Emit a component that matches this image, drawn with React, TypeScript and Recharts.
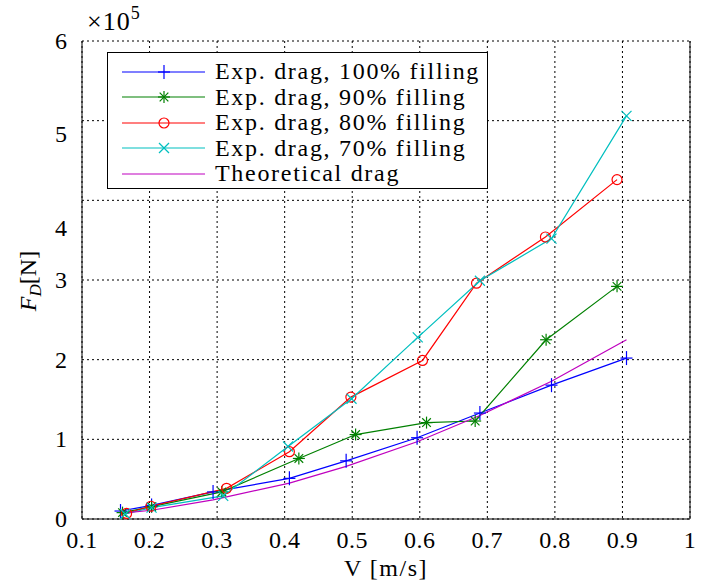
import {
  LineChart,
  Line,
  XAxis,
  YAxis,
  CartesianGrid,
  ReferenceLine,
} from "recharts";

// velocities [m/s] and drag [x1e5 N]
const V100 = [0.157, 0.203, 0.294, 0.407, 0.491, 0.596, 0.689, 0.795, 0.906];
const F100 = [0.1, 0.17, 0.34, 0.51, 0.73, 1.02, 1.33, 1.68, 2.02];
const V90 = [0.16, 0.203, 0.307, 0.421, 0.505, 0.61, 0.682, 0.787, 0.892];
const F90 = [0.08, 0.155, 0.34, 0.76, 1.06, 1.21, 1.23, 2.25, 2.92];
const V80 = [0.166, 0.202, 0.314, 0.407, 0.498, 0.604, 0.684, 0.786, 0.892];
const F80 = [0.07, 0.16, 0.385, 0.845, 1.53, 1.99, 2.96, 3.54, 4.26];
const V70 = [0.164, 0.203, 0.309, 0.405, 0.499, 0.597, 0.689, 0.795, 0.906];
const F70 = [0.063, 0.142, 0.29, 0.91, 1.51, 2.28, 2.99, 3.52, 5.06];
const VTH = [0.157, 0.203, 0.294, 0.407, 0.491, 0.596, 0.689, 0.795, 0.906];
const FTH = [0.07, 0.11, 0.24, 0.45, 0.66, 0.97, 1.3, 1.73, 2.25];

const X_TICKS = [0.1, 0.2, 0.3, 0.4, 0.5, 0.6, 0.7, 0.8, 0.9, 1];
const Y_TICKS = [0, 1, 2, 3, 4, 5, 6];

const FONT = "Liberation Serif";
const FS = 24;

type Marker = "plus" | "star" | "circle" | "cross" | "none";

const zip = (v: number[], f: number[]) => v.map((x, i) => ({ v: x, f: f[i] }));

const SERIES: { name: string; color: string; marker: Marker; data: { v: number; f: number }[] }[] = [
  { name: "Exp. drag, 100% filling", color: "#0000ff", marker: "plus", data: zip(V100, F100) },
  { name: "Exp. drag, 90% filling", color: "#008000", marker: "star", data: zip(V90, F90) },
  { name: "Exp. drag, 80% filling", color: "#ff0000", marker: "circle", data: zip(V80, F80) },
  { name: "Exp. drag, 70% filling", color: "#00bfbf", marker: "cross", data: zip(V70, F70) },
  { name: "Theoretical drag", color: "#bf00bf", marker: "none", data: zip(VTH, FTH) },
];

function MarkerShape({ kind, cx, cy, color }: { kind: Marker; cx: number; cy: number; color: string }) {
  const s = 6;
  if (kind === "plus")
    return (
      <g stroke={color} strokeWidth={1.2}>
        <line x1={cx - s} y1={cy} x2={cx + s} y2={cy} />
        <line x1={cx} y1={cy - s - 1} x2={cx} y2={cy + s + 1} />
      </g>
    );
  if (kind === "star") {
    const d = s * 0.72;
    return (
      <g stroke={color} strokeWidth={1.2}>
        <line x1={cx - s} y1={cy} x2={cx + s} y2={cy} />
        <line x1={cx} y1={cy - s} x2={cx} y2={cy + s} />
        <line x1={cx - d} y1={cy - d} x2={cx + d} y2={cy + d} />
        <line x1={cx - d} y1={cy + d} x2={cx + d} y2={cy - d} />
      </g>
    );
  }
  if (kind === "circle")
    return <circle cx={cx} cy={cy} r={5} fill="none" stroke={color} strokeWidth={1.2} />;
  if (kind === "cross") {
    const d = 5;
    return (
      <g stroke={color} strokeWidth={1.2}>
        <line x1={cx - d} y1={cy - d} x2={cx + d} y2={cy + d} />
        <line x1={cx - d} y1={cy + d} x2={cx + d} y2={cy - d} />
      </g>
    );
  }
  return <g />;
}

function makeDot(kind: Marker, color: string) {
  return (p: any) => (
    <MarkerShape key={`${kind}-${p.index}`} kind={kind} cx={p.cx} cy={p.cy} color={color} />
  );
}

// labels for 4 and 5 sit a bit lower than their grid lines in the original
const Y_LABEL_SHIFT: Record<number, number> = { 4: 28, 5: 13 };

function YTick(props: any) {
  const { x, y, payload } = props;
  const dy = Y_LABEL_SHIFT[payload.value] ?? 0;
  return (
    <text x={x - 7} y={y + dy + 8} textAnchor="end" style={{ fontFamily: FONT, fontSize: FS }} fill="#000">
      {payload.value}
    </text>
  );
}

function XTick(props: any) {
  const { x, y, payload } = props;
  return (
    <text x={x} y={y + 21} textAnchor="middle" style={{ fontFamily: FONT, fontSize: FS, letterSpacing: 0.5 }} fill="#000">
      {payload.value}
    </text>
  );
}

function LegendBox() {
  return (
    <div
      style={{
        position: "absolute",
        left: 107,
        top: 52,
        width: 381,
        height: 137,
        border: "1.3px solid #000",
        background: "#fff",
        fontFamily: FONT,
        fontSize: FS,
        letterSpacing: 1.7,
        lineHeight: "25.5px",
        paddingTop: 6,
        boxSizing: "border-box",
      }}
    >
      {SERIES.map((s) => (
        <div key={s.name} style={{ display: "flex", alignItems: "center", height: 25.5 }}>
          <svg width={107} height={20} style={{ flex: "none" }}>
            <line x1={14} y1={10} x2={97} y2={10} stroke={s.color} strokeWidth={1.2} />
            <MarkerShape kind={s.marker} cx={56} cy={10} color={s.color} />
          </svg>
          <span style={{ whiteSpace: "nowrap" }}>{s.name}</span>
        </div>
      ))}
    </div>
  );
}

export default function App() {
  return (
    <div style={{ position: "absolute", left: 0, top: 0, width: 710, height: 582, background: "#fff" }}>
      <LineChart width={710} height={582} margin={{ top: 41, right: 20, bottom: 0, left: 0 }}>
        <CartesianGrid xAxisId="b" yAxisId="l" stroke="#000" strokeDasharray="2 3" strokeWidth={1} />
        <XAxis
          xAxisId="b"
          type="number"
          dataKey="v"
          domain={[0.1, 1]}
          ticks={X_TICKS}
          allowDuplicatedCategory={false}
          height={63}
          stroke="#000"
          tickLine={false}
          tick={<XTick />}
          label={{
            content: () => (
              <text x={386} y={576} textAnchor="middle" style={{ fontFamily: FONT, fontSize: FS, letterSpacing: 1.5 }} fill="#000">
                V [m/s]
              </text>
            ),
          }}
        />
        <YAxis
          yAxisId="l"
          type="number"
          domain={[0, 6]}
          ticks={Y_TICKS}
          width={82}
          stroke="#000"
          tickLine={false}
          tick={<YTick />}
          label={{
            content: () => (
              <text transform="rotate(-90, 36, 281)" x={36} y={281} textAnchor="middle" style={{ fontFamily: FONT, fontSize: FS }} fill="#000">
                <tspan fontStyle="italic">F</tspan>
                <tspan fontStyle="italic" fontSize={17} dy={5}>D</tspan>
                <tspan dy={-5}>[N]</tspan>
              </text>
            ),
          }}
        />
        <ReferenceLine xAxisId="b" yAxisId="l" x={1} stroke="#000" strokeWidth={1} />
        {SERIES.map((s) => (
          <Line
            key={s.name}
            xAxisId="b"
            yAxisId="l"
            data={s.data}
            dataKey="f"
            name={s.name}
            stroke={s.color}
            strokeWidth={1.2}
            dot={makeDot(s.marker, s.color)}
            activeDot={false}
            isAnimationActive={false}
          />
        ))}
      </LineChart>
      <svg width={80} height={40} style={{ position: "absolute", left: 80, top: 0 }}>
        <text x={7} y={30} style={{ fontFamily: FONT, fontSize: 26, letterSpacing: 1 }} fill="#000">
          ×10
          <tspan dy={-11} style={{ fontSize: 18 }}>5</tspan>
        </text>
      </svg>
      <LegendBox />
    </div>
  );
}
